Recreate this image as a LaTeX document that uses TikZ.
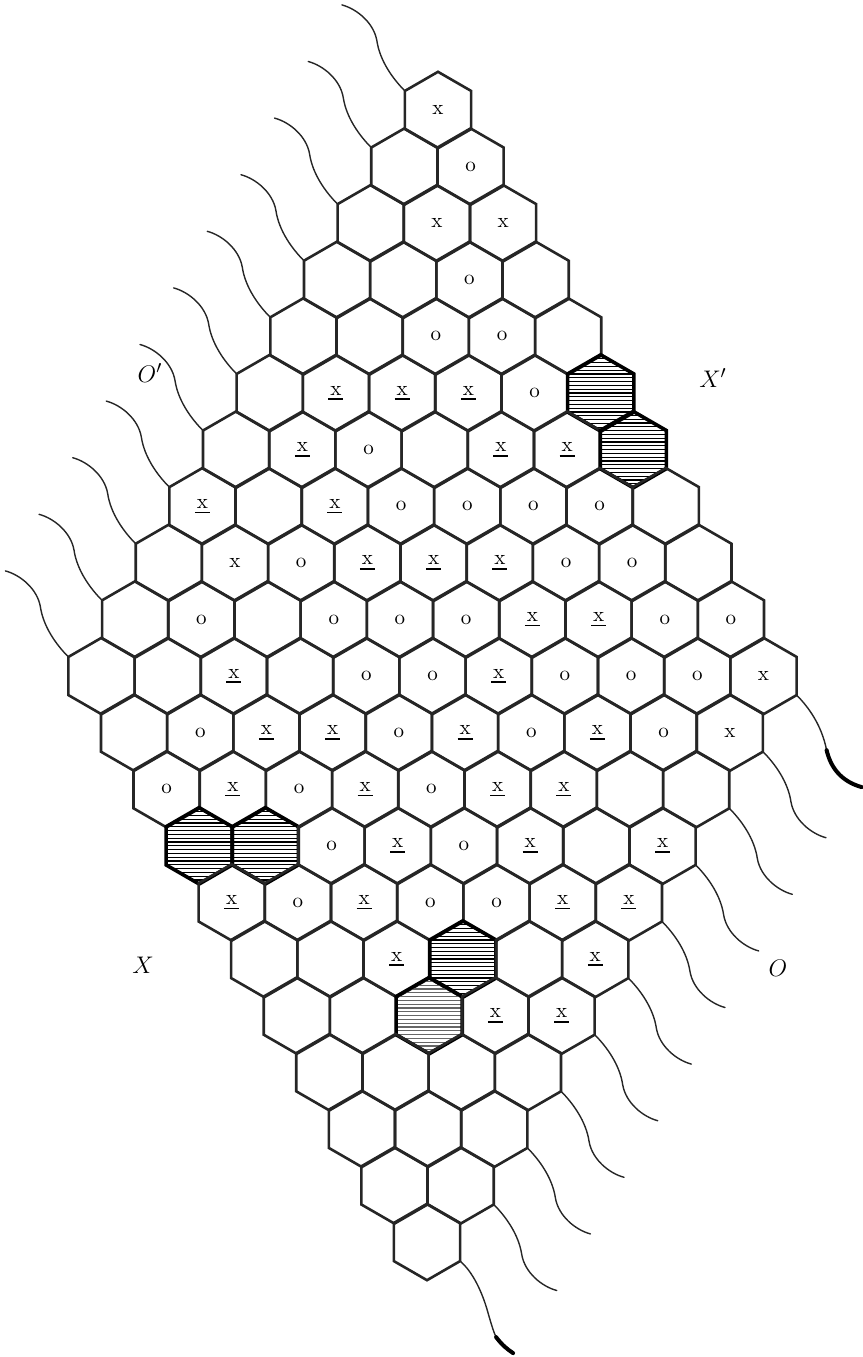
\documentclass[tikz,border=0pt]{standalone}
\usetikzlibrary{shapes.geometric,calc}
\tikzset{
  hexcell/.style={regular polygon, regular polygon sides=6, shape border rotate=30,
    minimum size=38.2pt, inner sep=0pt, draw=black!85, line width=1.3pt,
    font=\fontsize{10.5}{12}\selectfont},
  shadedcell/.style={hexcell, line width=1.8pt, draw=black,
    path picture={\foreach \h in {-9,...,9}{\draw[line width=0.65pt, black!#1]
      ([yshift=\h*1.9pt]path picture bounding box.west) --
      ([yshift=\h*1.9pt]path picture bounding box.east);}}},
  wavy/.style={line width=0.7pt, draw=black!85, line cap=round},
  wavyend/.style={line width=2pt, draw=black, line cap=round},
  sidelabel/.style={font=\fontsize{13}{15}\selectfont, inner sep=0pt}
}
\newcommand\hexmarkb{}
\newcommand\hexmarkx{x}
\newcommand\hexmarko{o}
\newcommand\hexmarku{\vbox{\hbox to 7.5pt{\hss x\hss}\kern1.6pt\hrule height 0.8pt}}
\newcommand\hexrow[2]{%
  \foreach \cc [count=\m from 0] in {#2}{%
    \pgfmathsetmacro\st{#1<=10 ? -#1 : #1-20}%
    \pgfmathsetmacro\xx{438+33.1*(\st+2*\m)-0.55*#1}%
    \pgfmathsetmacro\yy{110+56.6*#1}%
    \pgfmathtruncatemacro\sp{#1==16 ? 60 : 100}%
    \if s\cc
      \node[shadedcell=\sp] (c-#1-\m) at (\xx,\yy) {};%
    \else
      \node[hexcell] (c-#1-\m) at (\xx,\yy) {\csname hexmark\cc\endcsname};%
    \fi
  }%
}
\begin{document}
\begin{tikzpicture}[x=0.5pt,y=-0.5pt]
\useasboundingbox (0,0) rectangle (863,1357);
\hexrow{0}{x}
\hexrow{1}{b,o}
\hexrow{2}{b,x,x}
\hexrow{3}{b,b,o,b}
\hexrow{4}{b,b,o,o,b}
\hexrow{5}{b,u,u,u,o,s}
\hexrow{6}{b,u,o,b,u,u,s}
\hexrow{7}{u,b,u,o,o,o,o,b}
\hexrow{8}{b,x,o,u,u,u,o,o,b}
\hexrow{9}{b,o,b,o,o,o,u,u,o,o}
\hexrow{10}{b,b,u,b,o,o,u,o,o,o,x}
\hexrow{11}{b,o,u,u,o,u,o,u,o,x}
\hexrow{12}{o,u,o,u,o,u,u,b,b}
\hexrow{13}{s,s,o,u,o,u,b,u}
\hexrow{14}{u,o,u,o,o,u,u}
\hexrow{15}{b,b,u,s,b,u}
\hexrow{16}{b,b,s,u,u}
\hexrow{17}{b,b,b,b}
\hexrow{18}{b,b,b}
\hexrow{19}{b,b}
\hexrow{20}{b}
% wavy lines, upper-left side
\foreach \k in {0,...,10}{
  \draw[wavy, shift={($(c-\k-0.center)+(-33.1,-19.1)$)}]
    (0,0) .. controls (-12,-12) and (-25,-30) .. (-28,-50)
          .. controls (-31,-68) and (-48,-82) .. (-63,-86);
}
% wavy lines, lower-right side
\foreach \k in {11,...,19}{
  \pgfmathtruncatemacro\mm{20-\k}
  \draw[wavy, shift={($(c-\k-\mm.center)+(33.1,19.1)$)}, rotate=180]
    (0,0) .. controls (-12,-12) and (-25,-30) .. (-28,-50)
          .. controls (-31,-68) and (-48,-82) .. (-63,-86);
}
\draw[wavy, shift={($(c-10-10.center)+(33.1,19.1)$)}]
  (0,0) .. controls (12,12) and (25,30) .. (30,55);
\draw[wavyend, shift={($(c-10-10.center)+(33.1,19.1)$)}]
  (30,55) .. controls (34,72) and (44,86) .. (65,92);
\draw[wavy, shift={($(c-20-0.center)+(33.1,19.1)$)}]
  (0,0) .. controls (12,10) and (22,30) .. (28,52) .. controls (32,66) and (34,72) .. (36,76);
\draw[wavyend, shift={($(c-20-0.center)+(33.1,19.1)$)}]
  (36,76) .. controls (42,84) and (47,88) .. (53,92);
% side labels
\node[sidelabel] (lOp) at (150,373) {$O'$};
\node[sidelabel] (lXp) at (713,378) {$X'$};
\node[sidelabel] (lX) at (143,965) {$X$};
\node[sidelabel] (lO) at (778,968) {$O$};
\end{tikzpicture}
\end{document}
